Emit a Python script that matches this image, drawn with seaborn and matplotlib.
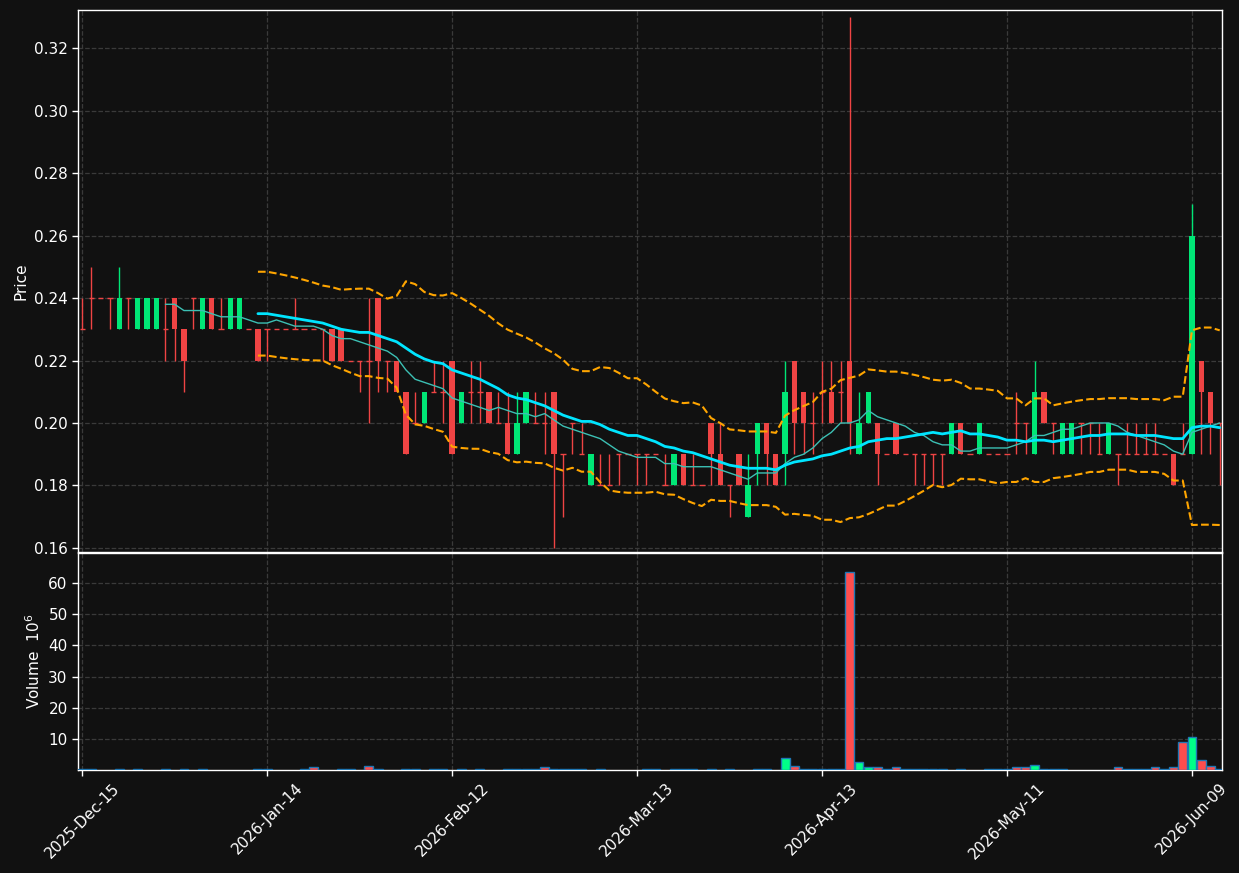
import numpy as np
import pandas as pd
import matplotlib
matplotlib.use("Agg")
import matplotlib.pyplot as plt
import seaborn as sns


# daily bars, one per trading day (index 0 = 2025-Dec-15)
opens = [
    0.23, 0.24, 0.24, 0.24, 0.23, 0.24, 0.23, 0.23, 0.23, 0.23,
    0.24, 0.23, 0.24, 0.23, 0.24, 0.23, 0.23, 0.23, 0.23, 0.23,
    0.23, 0.23, 0.23, 0.23, 0.23, 0.23, 0.23, 0.23, 0.23, 0.22,
    0.22, 0.22, 0.24, 0.22, 0.22, 0.21, 0.20, 0.20, 0.21, 0.21,
    0.22, 0.20, 0.21, 0.21, 0.21, 0.20, 0.20, 0.19, 0.20, 0.20,
    0.20, 0.21, 0.19, 0.20, 0.19, 0.18, 0.18, 0.18, 0.19, 0.19,
    0.19, 0.19, 0.19, 0.18, 0.18, 0.19, 0.18, 0.18, 0.20, 0.19,
    0.18, 0.19, 0.17, 0.19, 0.20, 0.19, 0.19, 0.22, 0.21, 0.20,
    0.21, 0.21, 0.21, 0.22, 0.19, 0.20, 0.20, 0.19, 0.20, 0.19,
    0.19, 0.19, 0.19, 0.19, 0.19, 0.20, 0.19, 0.19, 0.19, 0.19,
    0.19, 0.20, 0.20, 0.19, 0.21, 0.20, 0.19, 0.19, 0.20, 0.20,
    0.19, 0.19, 0.19, 0.19, 0.19, 0.19, 0.19, 0.19, 0.19, 0.19,
    0.19, 0.22, 0.21, 0.20,
]
highs = [
    0.24, 0.25, 0.24, 0.24, 0.25, 0.24, 0.24, 0.24, 0.24, 0.24,
    0.24, 0.23, 0.24, 0.24, 0.24, 0.24, 0.24, 0.24, 0.23, 0.23,
    0.23, 0.23, 0.23, 0.24, 0.23, 0.23, 0.23, 0.23, 0.23, 0.22,
    0.22, 0.24, 0.24, 0.22, 0.22, 0.21, 0.21, 0.21, 0.22, 0.22,
    0.22, 0.21, 0.22, 0.22, 0.21, 0.21, 0.21, 0.21, 0.21, 0.21,
    0.21, 0.21, 0.19, 0.20, 0.20, 0.19, 0.19, 0.19, 0.19, 0.19,
    0.19, 0.19, 0.19, 0.19, 0.19, 0.19, 0.19, 0.18, 0.20, 0.20,
    0.18, 0.19, 0.19, 0.20, 0.20, 0.19, 0.22, 0.22, 0.21, 0.21,
    0.22, 0.22, 0.22, 0.33, 0.21, 0.21, 0.20, 0.19, 0.20, 0.19,
    0.19, 0.19, 0.19, 0.19, 0.20, 0.20, 0.19, 0.20, 0.19, 0.19,
    0.19, 0.21, 0.20, 0.22, 0.21, 0.20, 0.20, 0.20, 0.20, 0.20,
    0.20, 0.20, 0.19, 0.20, 0.20, 0.20, 0.20, 0.19, 0.19, 0.20,
    0.27, 0.22, 0.21, 0.20,
]
lows = [
    0.23, 0.23, 0.24, 0.23, 0.23, 0.23, 0.23, 0.23, 0.23, 0.22,
    0.22, 0.21, 0.23, 0.23, 0.23, 0.23, 0.23, 0.23, 0.23, 0.22,
    0.22, 0.23, 0.23, 0.23, 0.23, 0.23, 0.22, 0.22, 0.22, 0.22,
    0.21, 0.20, 0.21, 0.21, 0.21, 0.19, 0.20, 0.20, 0.21, 0.20,
    0.19, 0.20, 0.20, 0.20, 0.20, 0.20, 0.19, 0.19, 0.20, 0.20,
    0.19, 0.16, 0.17, 0.19, 0.19, 0.18, 0.18, 0.18, 0.18, 0.19,
    0.18, 0.18, 0.19, 0.18, 0.18, 0.18, 0.18, 0.18, 0.18, 0.18,
    0.17, 0.18, 0.17, 0.18, 0.18, 0.18, 0.18, 0.19, 0.19, 0.19,
    0.20, 0.20, 0.20, 0.19, 0.19, 0.20, 0.18, 0.19, 0.19, 0.19,
    0.18, 0.18, 0.18, 0.18, 0.19, 0.19, 0.19, 0.19, 0.19, 0.19,
    0.19, 0.19, 0.19, 0.19, 0.20, 0.19, 0.19, 0.19, 0.19, 0.19,
    0.19, 0.19, 0.18, 0.19, 0.19, 0.19, 0.19, 0.19, 0.18, 0.19,
    0.19, 0.19, 0.19, 0.18,
]
closes = [
    0.23, 0.24, 0.24, 0.24, 0.24, 0.24, 0.24, 0.24, 0.24, 0.23,
    0.23, 0.22, 0.24, 0.24, 0.23, 0.23, 0.24, 0.24, 0.23, 0.22,
    0.23, 0.23, 0.23, 0.23, 0.23, 0.23, 0.23, 0.22, 0.22, 0.22,
    0.22, 0.22, 0.22, 0.22, 0.21, 0.19, 0.20, 0.21, 0.21, 0.21,
    0.19, 0.21, 0.21, 0.21, 0.20, 0.20, 0.19, 0.20, 0.21, 0.20,
    0.20, 0.19, 0.19, 0.20, 0.19, 0.19, 0.18, 0.18, 0.19, 0.19,
    0.19, 0.19, 0.19, 0.18, 0.19, 0.18, 0.18, 0.18, 0.19, 0.18,
    0.18, 0.18, 0.18, 0.20, 0.19, 0.18, 0.21, 0.20, 0.20, 0.20,
    0.21, 0.20, 0.21, 0.20, 0.20, 0.21, 0.19, 0.19, 0.19, 0.19,
    0.19, 0.19, 0.19, 0.19, 0.20, 0.19, 0.19, 0.20, 0.19, 0.19,
    0.19, 0.20, 0.20, 0.21, 0.20, 0.20, 0.20, 0.20, 0.20, 0.20,
    0.19, 0.20, 0.19, 0.19, 0.19, 0.19, 0.19, 0.19, 0.18, 0.19,
    0.26, 0.21, 0.20, 0.20,
]
# volume in millions of shares
volumes = [
    0.3, 0.3, 0.0, 0.0, 0.3, 0.0, 0.3, 0.0, 0.0, 0.3,
    0.0, 0.3, 0.0, 0.3, 0.0, 0.0, 0.0, 0.0, 0.0, 0.3,
    0.3, 0.0, 0.0, 0.0, 0.3, 1.1, 0.0, 0.0, 0.3, 0.3,
    0.0, 1.3, 0.3, 0.0, 0.0, 0.3, 0.3, 0.0, 0.3, 0.3,
    0.0, 0.3, 0.0, 0.3, 0.0, 0.0, 0.3, 0.3, 0.3, 0.3,
    1.0, 0.3, 0.3, 0.3, 0.3, 0.0, 0.3, 0.0, 0.0, 0.0,
    0.0, 0.3, 0.3, 0.0, 0.3, 0.3, 0.3, 0.0, 0.3, 0.0,
    0.3, 0.0, 0.0, 0.3, 0.3, 0.0, 3.8, 1.2, 0.3, 0.3,
    0.3, 0.3, 0.3, 63.5, 2.5, 0.9, 0.9, 0.3, 0.9, 0.3,
    0.3, 0.3, 0.3, 0.3, 0.0, 0.3, 0.0, 0.0, 0.3, 0.3,
    0.3, 0.8, 0.8, 1.5, 0.3, 0.3, 0.3, 0.0, 0.0, 0.0,
    0.0, 0.0, 0.8, 0.3, 0.3, 0.3, 0.8, 0.3, 0.8, 8.9,
    10.5, 3.1, 1.2, 0.3,
]
tick_labels = ["2025-Dec-15", "2026-Jan-14", "2026-Feb-12", "2026-Mar-13",
               "2026-Apr-13", "2026-May-11", "2026-Jun-09"]
tick_every = 20

BG = "#111111"
UP = "#00e676"
DOWN = "#ef4444"
VOL_UP = "#00ff88"
VOL_DOWN = "#ff4d4d"

sns.set_theme(style="dark", rc={
    "figure.facecolor": BG,
    "axes.facecolor": BG,
    "axes.edgecolor": "white",
    "axes.labelcolor": "white",
    "text.color": "white",
    "xtick.color": "white",
    "ytick.color": "white",
    "xtick.bottom": True,
    "ytick.left": True,
})
plt.rcParams["font.family"] = ["DejaVu Sans"]

df = pd.DataFrame({"open": opens, "high": highs, "low": lows,
                   "close": closes, "volume": volumes})
df["x"] = np.arange(len(df))
df["ma10"] = df["close"].rolling(10).mean()
df["ma20"] = df["close"].rolling(20).mean()
sd = df["close"].rolling(20).std(ddof=0)
df["bb_up"] = df["ma20"] + 2 * sd
df["bb_lo"] = df["ma20"] - 2 * sd

up = df["close"] > df["open"]
colors = np.where(up, UP, DOWN)
vcolors = np.where(up, VOL_UP, VOL_DOWN)

fig = plt.figure(figsize=(12.39, 8.73), dpi=100)
ax = fig.add_axes([0.063, 0.3677, 0.9233, 0.6208])
axv = fig.add_axes([0.063, 0.118, 0.9233, 0.2486], sharex=ax)

# candles
w = 0.58
ax.vlines(df["x"], df["low"], df["high"], colors=colors, lw=1, zorder=2)
body = df["close"] != df["open"]
ax.bar(df["x"][body], (df["close"] - df["open"])[body], bottom=df["open"][body],
       width=w, color=colors[body], linewidth=0, zorder=3)
flat = ~body
ax.hlines(df["open"][flat], df["x"][flat] - w / 2, df["x"][flat] + w / 2,
          colors=colors[flat], lw=1, zorder=3)

# moving averages and bands
sns.lineplot(data=df, x="x", y="ma10", ax=ax, color="#3cc0b4", lw=1, zorder=4)
sns.lineplot(data=df, x="x", y="ma20", ax=ax, color="#00e5ff", lw=2, zorder=4)
sns.lineplot(data=df, x="x", y="bb_up", ax=ax, color="orange", lw=1.5,
             linestyle="--", zorder=4)
sns.lineplot(data=df, x="x", y="bb_lo", ax=ax, color="orange", lw=1.5,
             linestyle="--", zorder=4)

# volume
vmask = df["volume"] > 0
axv.bar(df["x"][vmask], df["volume"][vmask], width=0.96, color=vcolors[vmask],
        edgecolor="#1f77b4", linewidth=1, zorder=3)

for a in (ax, axv):
    a.grid(True, linestyle="--", color="#3a3a3a", lw=0.9, zorder=0)
    for s in a.spines.values():
        s.set_color("white")
        s.set_linewidth(1)
    a.tick_params(axis="both", colors="white", labelsize=11, length=4, width=1)
    a.set_xlabel("")

ticks = np.arange(0, len(df), tick_every)
ax.set_xticks(ticks)
ax.tick_params(axis="x", labelbottom=False)
axv.set_xticks(ticks)
axv.set_xticklabels(tick_labels, rotation=45, ha="center")

ax.set_xlim(-0.45, 123.25)
ax.set_ylim(0.1587, 0.3322)
ax.set_yticks(np.arange(0.16, 0.33, 0.02))
ax.set_yticklabels([f"{v:.2f}" for v in np.arange(0.16, 0.33, 0.02)])
ax.set_ylabel("Price", fontsize=11)

axv.set_ylim(0, 69.7)
axv.set_yticks([10, 20, 30, 40, 50, 60])
axv.set_ylabel("Volume  $10^{6}$", fontsize=11)

fig.savefig("out.png", dpi=100, facecolor=BG)
